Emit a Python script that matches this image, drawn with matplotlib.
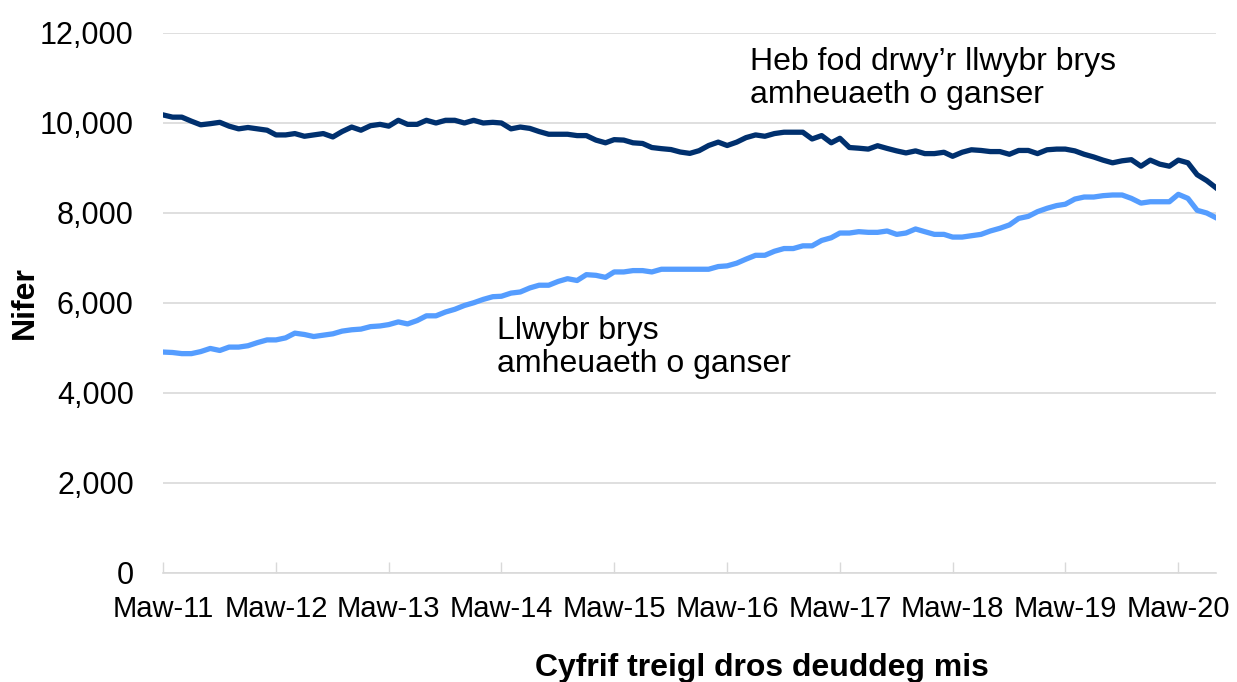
import numpy as np
import pandas as pd
import matplotlib
matplotlib.use("Agg")
import matplotlib.pyplot as plt
from matplotlib.ticker import FuncFormatter

# rolling 12-month counts, monthly from Mar-2011 to Jul-2020
months = pd.date_range("2011-03-01", "2020-07-01", freq="MS")

heb_fod = [
    10180, 10130, 10130, 10040, 9960, 9985, 10015, 9930, 9870, 9900,
    9870, 9840, 9735, 9735, 9765, 9705, 9735, 9765, 9690, 9810,
    9910, 9840, 9940, 9970, 9930, 10060, 9970, 9970, 10060, 10000,
    10060, 10060, 10000, 10060, 10000, 10015, 10000, 9870, 9910, 9880,
    9810, 9750, 9750, 9750, 9720, 9720, 9620, 9560, 9630, 9620,
    9560, 9545, 9455, 9430, 9410, 9355, 9325, 9385, 9500, 9575,
    9500, 9575, 9675, 9735, 9705, 9765, 9795, 9795, 9795, 9645,
    9720, 9560, 9660, 9455, 9440, 9420, 9495, 9435, 9380, 9335,
    9380, 9320, 9320, 9350, 9260, 9350, 9405, 9390, 9365, 9365,
    9305, 9390, 9390, 9320, 9405, 9420, 9420, 9380, 9305, 9245,
    9175, 9115, 9160, 9185, 9040, 9175, 9085, 9040, 9175, 9115,
    8850, 8720, 8560,
]

llwybr_brys = [
    4910, 4900, 4875, 4875, 4920, 4990, 4945, 5020, 5020, 5050,
    5120, 5180, 5180, 5225, 5330, 5300, 5255, 5285, 5315, 5375,
    5405, 5420, 5475, 5490, 5520, 5580, 5535, 5610, 5715, 5715,
    5800, 5860, 5945, 6005, 6080, 6140, 6150, 6220, 6245, 6335,
    6395, 6395, 6480, 6540, 6500, 6630, 6615, 6570, 6690, 6690,
    6720, 6720, 6690, 6750, 6750, 6750, 6750, 6750, 6750, 6810,
    6825, 6885, 6975, 7060, 7060, 7150, 7210, 7210, 7270, 7270,
    7390, 7450, 7555, 7555, 7585, 7570, 7570, 7600, 7525, 7555,
    7645, 7585, 7525, 7525, 7465, 7465, 7495, 7525, 7600, 7660,
    7735, 7880, 7925, 8030, 8105, 8165, 8195, 8310, 8355, 8355,
    8385, 8400, 8400, 8325, 8220, 8250, 8250, 8250, 8415, 8325,
    8060, 8000, 7895,
]

tick_dates = pd.date_range("2011-03-01", "2020-03-01", freq="12MS")
tick_labels = ["Maw-11", "Maw-12", "Maw-13", "Maw-14", "Maw-15",
               "Maw-16", "Maw-17", "Maw-18", "Maw-19", "Maw-20"]

DARK = "#00306E"
LIGHT = "#559DFF"
GRID = "#D9D9D9"
FS_X = 21
FS_Y = 22
FS_TEXT = 23

plt.rcParams.update({"font.family": ["Liberation Sans", "DejaVu Sans"],
                     "font.size": FS_Y})

fig = plt.figure(figsize=(12.37, 6.82), dpi=100)
ax = fig.add_axes([163 / 1237, 1 - 573 / 682, (1216 - 163) / 1237, 540 / 682])

ax.plot(months, heb_fod, color=DARK, lw=3.8, solid_joinstyle="round")
ax.plot(months, llwybr_brys, color=LIGHT, lw=3.8, solid_joinstyle="round")

ax.set_xlim(months[0], months[-1])
ax.set_ylim(0, 12000)
ax.set_yticks(np.arange(0, 12001, 2000))
ax.yaxis.set_major_formatter(FuncFormatter(lambda v, p: f"{int(v):,}"))
ax.grid(axis="y", color=GRID, lw=1.2)
ax.set_axisbelow(True)

ax.set_xticks(tick_dates)
ax.set_xticklabels(tick_labels)
ax.tick_params(axis="x", direction="in", length=8, width=1, color=GRID,
               pad=16, labelsize=FS_X)
ax.tick_params(axis="y", length=0, pad=21, labelsize=FS_Y)

for s in ["top", "right", "left"]:
    ax.spines[s].set_visible(False)
ax.spines["bottom"].set_color(GRID)
ax.spines["bottom"].set_linewidth(1.2)

# series labels
ax.text(0.557, 0.916, "Heb fod drwy\u2019r llwybr brys\namheuaeth o ganser",
        transform=ax.transAxes, ha="left", va="center", fontsize=FS_TEXT,
        linespacing=1.15)
ax.text(0.317, 0.4176, "Llwybr brys\namheuaeth o ganser",
        transform=ax.transAxes, ha="left", va="center", fontsize=FS_TEXT,
        linespacing=1.15)

fig.text(25 / 1237, 1 - 303 / 682, "Nifer", rotation=90, ha="center",
         va="center", fontsize=FS_TEXT, weight="bold")
fig.text(762 / 1237, 1 - 668 / 682, "Cyfrif treigl dros deuddeg mis",
         ha="center", va="center", fontsize=FS_TEXT, weight="bold")

fig.savefig("out.png", dpi=100, facecolor="white")
